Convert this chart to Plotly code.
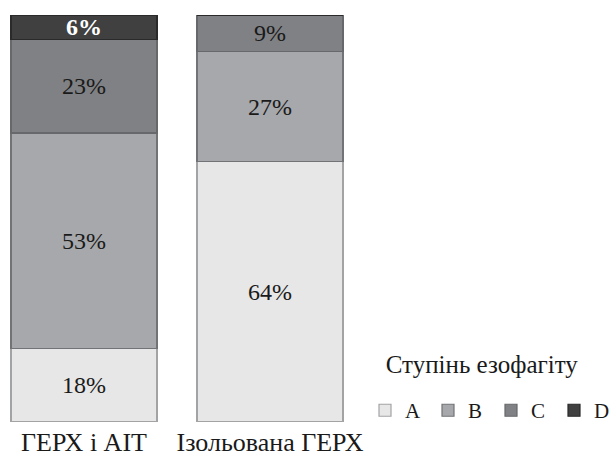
import plotly.graph_objects as go

# Distribution of oesophagitis grades by patient group
groups = ["ГЕРХ і АІТ", "Ізольована ГЕРХ"]
grades = ["A", "B", "C", "D"]
shares = {
    "A": [18, 64],
    "B": [53, 27],
    "C": [23, 9],
    "D": [6, 0],
}
fill_colors = {"A": "#e6e7e6", "B": "#a7a8ab", "C": "#808184", "D": "#404040"}
edge_colors = {"A": "#a2a3a5", "B": "#727376", "C": "#67686b", "D": "#2a2a2a"}
text_colors = {"A": "#1a1a1a", "B": "#1a1a1a", "C": "#1a1a1a", "D": "#ffffff"}

FONT = "Liberation Serif"
legend_title = "Ступінь езофагіту"

fig = go.Figure()
xpos = list(range(len(groups)))
for g in grades:
    vals = shares[g]
    labels = [f"{v}%" if v > 0 else "" for v in vals]
    fig.add_trace(go.Bar(
        name=g,
        x=xpos,
        y=vals,
        width=0.785,
        marker=dict(color=fill_colors[g], line=dict(color=edge_colors[g], width=1.2)),
        text=labels,
        textposition="inside",
        insidetextanchor="middle",
        textangle=0,
        constraintext="none",
        textfont=dict(family=FONT, size=24, color=text_colors[g],
                      weight="bold" if g == "D" else "normal"),
        cliponaxis=False,
        hoverinfo="skip",
    ))

fig.update_layout(
    barmode="stack",
    width=612,
    height=464,
    margin=dict(l=0, r=0, t=15, b=42, autoexpand=False),
    paper_bgcolor="white",
    plot_bgcolor="white",
    font=dict(family=FONT, color="#1a1a1a"),
    xaxis=dict(
        range=[-84 / 186, (612 - 84) / 186],
        tickvals=xpos,
        ticktext=groups,
        tickfont=dict(family=FONT, size=26, color="#1a1a1a"),
        showgrid=False,
        zeroline=False,
        showline=False,
        ticks="",
        ticklabelstandoff=2,
    ),
    yaxis=dict(range=[0, 100], visible=False),
    showlegend=True,
    legend=dict(
        orientation="h",
        x=365 / 612,
        xanchor="left",
        y=(422 - 355) / 407,
        yanchor="top",
        # larger title text on a taller two-line block leaves room above the entries
        title=dict(text="<span style='font-size:25px'>\u00a0\u00a0\u00a0" + legend_title + "</span><br> ",
                   side="top",
                   font=dict(family=FONT, size=13.5, color="#1a1a1a")),
        font=dict(family=FONT, size=21, color="#1a1a1a"),
        traceorder="normal",
        itemwidth=30,
        entrywidth=18,
        bgcolor="rgba(0,0,0,0)",
    ),
)

fig.write_html("out.html")
